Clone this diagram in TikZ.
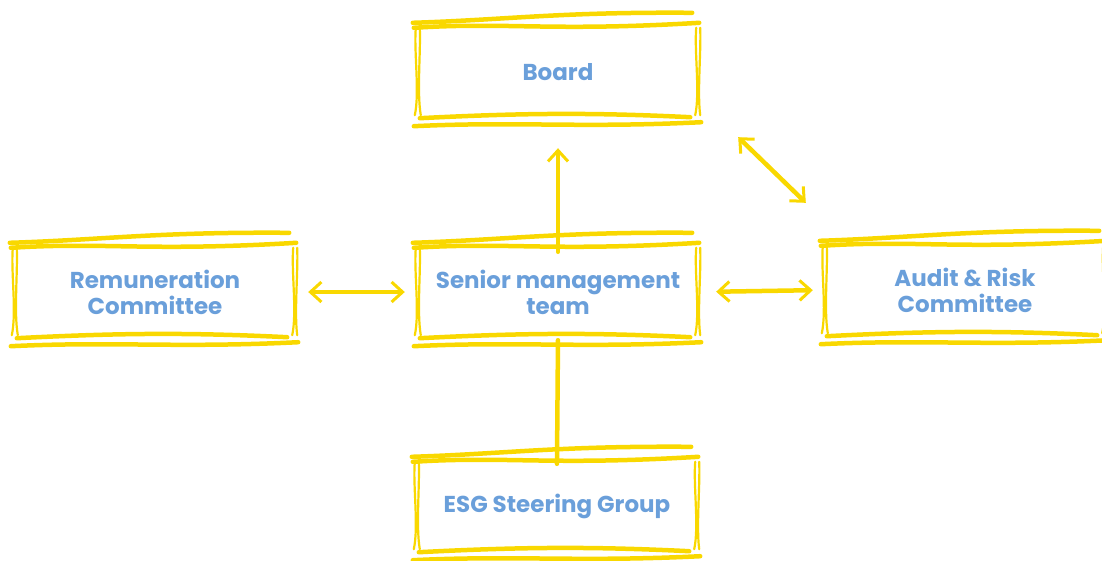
\documentclass[tikz,border=0pt]{standalone}
\usepackage{fontspec}
\setmainfont{Poppins}
\usetikzlibrary{calc,arrows.meta}
\definecolor{sky}{HTML}{F9D800}
\definecolor{txt}{HTML}{6A9FDA}
\tikzset{
  sk/.style={draw=sky,line width=4.5pt,line cap=round,line join=round},
  skthin/.style={draw=sky,line width=2.2pt,line cap=round},
  box/.style={minimum width=280pt,minimum height=92pt,inner sep=0pt,align=center,
    text=txt,font=\fontsize{23}{26}\selectfont\bfseries},
  conn/.style={draw=sky,line width=4.5pt,line cap=round,line join=round},
  tipb/.style={arrows={Straight Barb[length=11pt,width=20pt,line width=3pt]-Straight Barb[length=11pt,width=20pt,line width=3pt]}},
  tipe/.style={arrows={-Straight Barb[length=11pt,width=20pt,line width=3pt]}}
}
\newcommand\skbox[1]{%
  \draw[sk] ($(#1.north west)+(-5,-3)$) .. controls ($(#1.north west)+(90,-6)$) and ($(#1.north east)+(-140,-14)$) .. ($(#1.north east)+(-6,-13)$);
  \draw[sk] ($(#1.north west)+(-4,2)$) .. controls ($(#1.north west)+(90,-4)$) and ($(#1.north east)+(-150,6)$) .. ($(#1.north east)+(1,-3)$);
  \draw[sk] ($(#1.south west)+(2,0)$) .. controls ($(#1.south west)+(100,-5)$) and ($(#1.south east)+(-110,-6)$) .. ($(#1.south east)+(-8,-1)$);
  \draw[sk] ($(#1.south west)+(-4,8)$) .. controls ($(#1.south west)+(100,3)$) and ($(#1.south east)+(-120,10)$) .. ($(#1.south east)+(3,4)$);
  \draw[skthin] ($(#1.north west)+(-2,2)$) .. controls ($(#1.west)+(-4,-20)$) and ($(#1.west)+(2,20)$) .. ($(#1.south west)+(-3,-3)$);
  \draw[skthin] ($(#1.north west)+(2,2)$) .. controls ($(#1.west)+(3,-20)$) and ($(#1.west)+(-1,20)$) .. ($(#1.south west)+(3,-3)$);
  \draw[skthin] ($(#1.north east)+(-2,2)$) .. controls ($(#1.east)+(-4,-20)$) and ($(#1.east)+(2,20)$) .. ($(#1.south east)+(-3,-3)$);
  \draw[skthin] ($(#1.north east)+(2,2)$) .. controls ($(#1.east)+(3,-20)$) and ($(#1.east)+(-1,20)$) .. ($(#1.south east)+(2,-3)$);
}
\begin{document}
\begin{tikzpicture}[x=1pt,y=-1pt]
\useasboundingbox (0,0) rectangle (1102,560);
\clip (0,0) rectangle (1102,560);
\node[box] (board) at (558,72) {Board};
\node[box] (remun) at (155,292) {Remuneration\\Committee};
\node[box] (senior) at (558,292) {Senior management\\team};
\node[box] (audit) at (965,290) {Audit \& Risk\\Committee};
\node[box] (esg) at (557,506) {ESG Steering Group};
\foreach \n in {board,remun,senior,audit,esg} {\skbox{\n}}
\draw[conn,tipe,shorten >=30pt,shorten <=-6pt] (senior.north) -- (board.south);
\draw[conn,shorten <=2pt,shorten >=-4pt] (senior.south) -- (esg.north);
\draw[conn,tipb,shorten <=13pt,shorten >=13pt] (remun.east) -- (senior.west);
\draw[conn,tipb,shorten <=18pt,shorten >=12pt] (senior.east) -- (audit.west);
\draw[conn,tipb] ($(board.south east)+(40,19)$) -- ($(audit.north west)+(-19,-41)$);
\end{tikzpicture}
\end{document}
